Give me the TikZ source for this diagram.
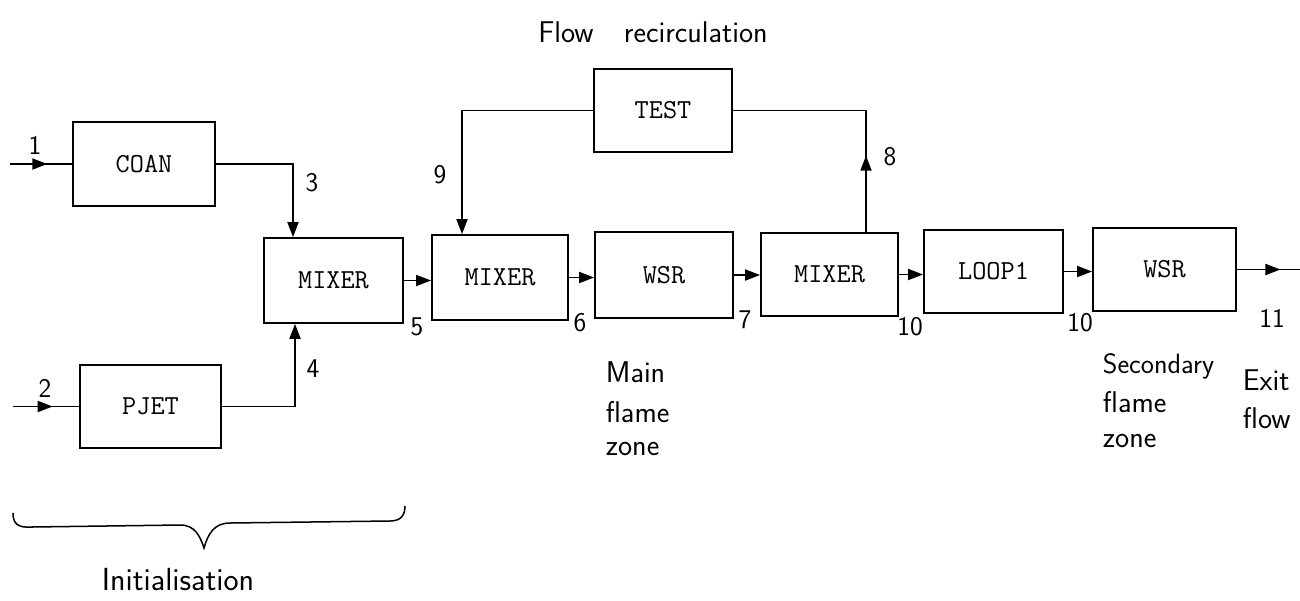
\documentclass[tikz,border=0pt]{standalone}
\usepackage{fontspec}
\usetikzlibrary{arrows.meta,decorations.markings}
\begin{document}
\begin{tikzpicture}[x=1pt,y=-1pt,line width=1.8pt,
  blk/.style={draw,line width=1.8pt,minimum width=140pt,minimum height=84pt,inner sep=0pt,
    font=\ttfamily\fontsize{27.5}{30}\selectfont},
  hw/.style={font=\sffamily\fontsize{27}{30}\selectfont,inner sep=0pt},
  hwt/.style={font=\sffamily\fontsize{30}{32}\selectfont,inner sep=0pt,anchor=base west},
  tip/.style={-{Triangle[length=15pt,width=11pt]}},
  midtip/.style={postaction={decorate},decoration={markings,
    mark=at position #1 with {\arrow{Triangle[length=15pt,width=11pt]}}}}]
\useasboundingbox (0,0) rectangle (1300,600);
\fill[white] (0,0) rectangle (1300,600);

% boxes
\node[blk,minimum width=142pt] (coan) at (144,164) {COAN};
\node[blk,minimum width=141pt,minimum height=83pt] (pjet) at (150.5,406.5) {PJET};
\node[blk,minimum width=139pt,minimum height=85pt] (mix1) at (333.5,280.5) {MIXER};
\node[blk,minimum width=136pt,minimum height=85pt] (mix2) at (500,277.5) {MIXER};
\node[blk,minimum width=138pt,minimum height=86pt] (wsr1) at (664,275) {WSR};
\node[blk,minimum width=138pt,minimum height=83pt] (test) at (663,110.5) {TEST};
\node[blk,minimum width=137pt,minimum height=83pt] (mix3) at (829.5,274.5) {MIXER};
\node[blk,minimum width=139pt,minimum height=83pt] (loop) at (993.5,271.5) {LOOP1};
\node[blk,minimum width=143pt,minimum height=83pt] (wsr2) at (1164.5,269.5) {WSR};

% free ends
\coordinate (in1) at (10,164);
\coordinate (in2) at (13,406.5);
\coordinate (out) at (1300,269.5);

% connectors
\draw[midtip=0.6] (in1) -- (coan.west);
\draw[midtip=0.6] (in2) -- (pjet.west);
\draw[tip] (coan.east) -| ([xshift=-40.5pt]mix1.north);
\draw[tip] (pjet.east) -| ([xshift=-38.5pt]mix1.south);
\draw[tip] (mix1.east) -- (mix1.east -| mix2.west);
\draw[tip] (mix2.east) -- (mix2.east -| wsr1.west);
\draw[tip] (wsr1.east) -- (wsr1.east -| mix3.west);
\draw[tip] (mix3.east) -- (mix3.east -| loop.west);
\draw[tip] (loop.east) -- (loop.east -| wsr2.west);
\draw[midtip=0.69] (wsr2.east) -- (out);
\draw[tip] (test.west) -| ([xshift=-38pt]mix2.north);
\draw[midtip=0.3] ([xshift=36.5pt]mix3.north) |- (test.east);

% stream numbers
\node[hw] (n1) at (35,145) {1};
\node[hw] (n2) at (45,388) {2};
\node[hw] (n3) at (312,183) {3};
\node[hw] (n4) at (313,369) {4};
\node[hw] (n5) at (417,327) {5};
\node[hw] (n6) at (580,323) {6};
\node[hw] (n7) at (745,320) {7};
\node[hw] (n8) at (890,157) {8};
\node[hw] (n9) at (440,175) {9};
\node[hw] (n10a) at (910,327) {10};
\node[hw] (n10b) at (1080,323) {10};
\node[hw] (n11) at (1272,318) {11};

% captions
\node[hwt,anchor=base] (flow) at (653,42) {Flow\hspace{0.7em} recirculation};
\node[hwt] (main1) at (605,382) {Main};
\node[hwt] (main2) at (605,422) {flame};
\node[hwt] (main3) at (605,455) {zone};
\node[hwt,font=\sffamily\fontsize{28}{30}\selectfont] (sec1) at (1102,373) {Secondary};
\node[hwt] (sec2) at (1102,412) {flame};
\node[hwt] (sec3) at (1102,447) {zone};
\node[hwt] (exit1) at (1242,390) {Exit};
\node[hwt] (exit2) at (1242,428) {flow};

% brace
\draw[line width=1.5pt] (13,513) .. controls (13,524) and (18,528) .. (32,527)
  -- (180,525) .. controls (195,525) and (200,536) .. (204,548)
  .. controls (208,534) and (214,523) .. (230,523)
  -- (390,521) .. controls (402,521) and (405,514) .. (405,506);
\node[hw,font=\sffamily\fontsize{32}{34}\selectfont,anchor=base] (init) at (178,590) {Initialisation};
\end{tikzpicture}
\end{document}
